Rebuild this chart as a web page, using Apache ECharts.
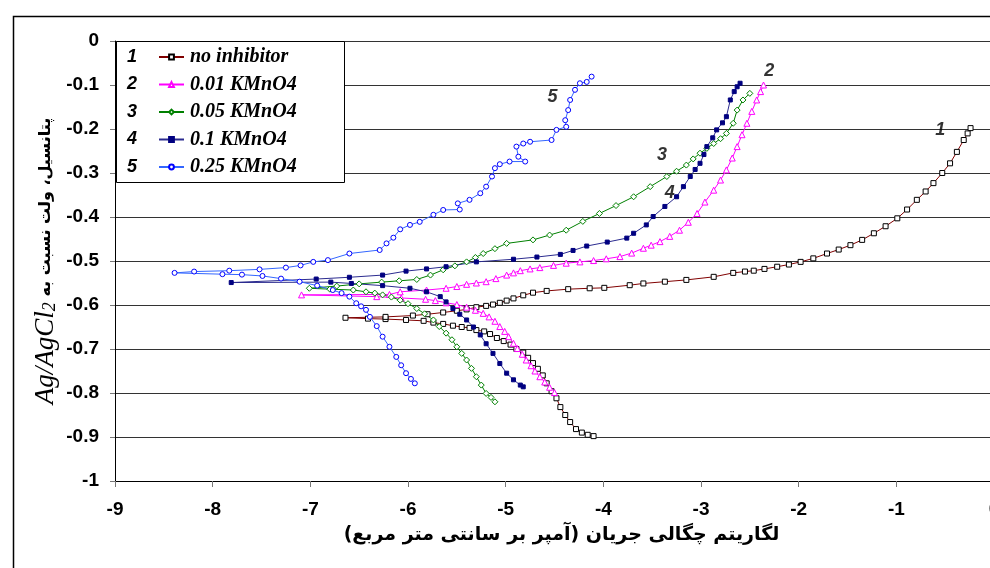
<!DOCTYPE html>
<html>
<head>
<meta charset="utf-8">
<script src="https://cdn.jsdelivr.net/npm/echarts/dist/echarts.min.js"></script>
<style>
  html, body { margin: 0; padding: 0; background: #fff; }
  #chart { width: 990px; height: 568px; }
</style>
</head>
<body>
<div id="chart"></div>
<script>
// log(i) , E  pairs, scan order: cathodic end -> Ecorr -> anodic end
const noInhibitor = [
  [-4.10,-0.898],[-4.16,-0.895],[-4.22,-0.890],[-4.28,-0.882],[-4.34,-0.866],[-4.39,-0.850],[-4.44,-0.832],
  [-4.48,-0.812],[-4.53,-0.796],[-4.58,-0.778],[-4.62,-0.760],[-4.67,-0.745],[-4.72,-0.732],[-4.77,-0.720],
  [-4.82,-0.708],[-4.89,-0.700],[-4.95,-0.690],[-5.02,-0.682],[-5.09,-0.675],[-5.16,-0.666],[-5.22,-0.660],
  [-5.30,-0.657],[-5.37,-0.652],[-5.45,-0.650],[-5.54,-0.647],[-5.64,-0.643],[-5.74,-0.640],[-5.84,-0.636],
  [-6.02,-0.634],[-6.23,-0.632],[-6.41,-0.631],[-6.64,-0.629],
  [-6.23,-0.627],[-5.95,-0.624],[-5.80,-0.621],[-5.64,-0.617],[-5.50,-0.613],[-5.40,-0.610],[-5.30,-0.605],
  [-5.20,-0.602],[-5.13,-0.599],[-5.06,-0.595],[-4.99,-0.590],[-4.92,-0.585],[-4.82,-0.578],[-4.72,-0.572],
  [-4.58,-0.568],[-4.36,-0.564],[-4.14,-0.562],[-3.99,-0.561],[-3.73,-0.555],[-3.59,-0.551],[-3.37,-0.547],
  [-3.15,-0.543],[-2.87,-0.536],[-2.67,-0.527],[-2.55,-0.524],[-2.46,-0.522],[-2.35,-0.518],[-2.22,-0.513],
  [-2.10,-0.508],[-1.98,-0.502],[-1.85,-0.494],[-1.71,-0.483],[-1.59,-0.474],[-1.47,-0.464],[-1.35,-0.452],
  [-1.23,-0.437],[-1.11,-0.421],[-0.99,-0.403],[-0.89,-0.383],[-0.79,-0.361],[-0.70,-0.342],[-0.62,-0.323],
  [-0.53,-0.300],[-0.45,-0.278],[-0.38,-0.252],[-0.31,-0.225],[-0.27,-0.210],[-0.24,-0.198]
];
const kmno4_001 = [
  [-4.50,-0.799],[-4.55,-0.787],[-4.60,-0.775],[-4.65,-0.763],[-4.70,-0.750],[-4.74,-0.738],[-4.79,-0.725],
  [-4.83,-0.712],[-4.88,-0.699],[-4.92,-0.687],[-4.97,-0.672],[-5.01,-0.660],[-5.06,-0.649],[-5.11,-0.637],
  [-5.17,-0.627],[-5.23,-0.619],[-5.31,-0.612],[-5.40,-0.605],[-5.50,-0.599],[-5.61,-0.595],[-5.72,-0.590],
  [-5.82,-0.587],[-6.07,-0.584],[-6.32,-0.581],[-7.09,-0.577],
  [-6.19,-0.576],[-6.08,-0.570],[-5.81,-0.566],[-5.61,-0.562],[-5.50,-0.558],[-5.40,-0.553],[-5.30,-0.550],
  [-5.20,-0.547],[-5.10,-0.540],[-4.99,-0.532],[-4.92,-0.527],[-4.85,-0.522],[-4.75,-0.518],[-4.65,-0.515],
  [-4.51,-0.510],[-4.38,-0.505],[-4.24,-0.502],[-4.10,-0.499],[-3.97,-0.495],[-3.83,-0.490],[-3.71,-0.482],
  [-3.59,-0.471],[-3.51,-0.464],[-3.42,-0.456],[-3.32,-0.444],[-3.22,-0.430],[-3.13,-0.412],[-3.04,-0.392],
  [-2.96,-0.366],[-2.87,-0.339],[-2.80,-0.316],[-2.74,-0.293],[-2.68,-0.266],[-2.63,-0.240],[-2.58,-0.213],
  [-2.53,-0.187],[-2.48,-0.160],[-2.43,-0.134],[-2.39,-0.115],[-2.36,-0.100]
];
const kmno4_005 = [
  [-5.11,-0.820],[-5.15,-0.810],[-5.20,-0.801],[-5.25,-0.782],[-5.30,-0.763],[-5.35,-0.744],[-5.40,-0.725],
  [-5.45,-0.710],[-5.50,-0.695],[-5.55,-0.679],[-5.61,-0.664],[-5.68,-0.649],[-5.74,-0.634],[-5.83,-0.620],
  [-5.91,-0.608],[-6.00,-0.597],[-6.08,-0.589],[-6.17,-0.582],[-6.26,-0.577],[-6.34,-0.573],[-6.43,-0.570],
  [-6.56,-0.566],[-6.80,-0.564],[-7.01,-0.562],
  [-6.73,-0.557],[-6.50,-0.552],[-6.27,-0.548],[-6.09,-0.545],[-5.91,-0.542],[-5.77,-0.532],[-5.64,-0.520],
  [-5.52,-0.511],[-5.40,-0.502],[-5.31,-0.492],[-5.23,-0.483],[-5.11,-0.472],[-4.99,-0.460],[-4.72,-0.452],
  [-4.55,-0.441],[-4.38,-0.430],[-4.21,-0.410],[-4.04,-0.392],[-3.87,-0.374],[-3.69,-0.354],[-3.52,-0.331],
  [-3.35,-0.308],[-3.25,-0.296],[-3.15,-0.282],[-3.08,-0.268],[-3.01,-0.255],[-2.94,-0.244],[-2.87,-0.233],
  [-2.80,-0.222],[-2.74,-0.210],[-2.67,-0.187],[-2.63,-0.157],[-2.57,-0.134],[-2.50,-0.119]
];
const kmno4_01 = [
  [-4.82,-0.786],[-4.85,-0.782],[-4.92,-0.770],[-4.99,-0.755],[-5.06,-0.733],[-5.13,-0.710],[-5.20,-0.688],
  [-5.26,-0.668],[-5.33,-0.650],[-5.40,-0.634],[-5.47,-0.621],[-5.54,-0.608],[-5.61,-0.593],[-5.67,-0.581],
  [-5.81,-0.570],[-5.98,-0.562],[-6.26,-0.556],[-6.58,-0.551],[-6.79,-0.548],[-7.81,-0.549],
  [-6.94,-0.541],[-6.60,-0.537],[-6.26,-0.532],[-6.02,-0.523],[-5.81,-0.518],[-5.61,-0.513],[-5.30,-0.502],
  [-4.92,-0.496],[-4.68,-0.491],[-4.44,-0.485],[-4.31,-0.476],[-4.17,-0.466],[-3.96,-0.457],[-3.76,-0.448],
  [-3.69,-0.437],[-3.56,-0.418],[-3.49,-0.399],[-3.37,-0.376],[-3.25,-0.354],[-3.18,-0.331],[-3.11,-0.308],
  [-3.06,-0.292],[-3.01,-0.278],[-2.97,-0.258],[-2.94,-0.240],[-2.88,-0.220],[-2.84,-0.202],[-2.78,-0.186],
  [-2.74,-0.172],[-2.70,-0.134],[-2.66,-0.115],[-2.63,-0.104],[-2.60,-0.096]
];
const kmno4_025 = [
  [-5.93,-0.778],[-5.97,-0.768],[-6.02,-0.755],[-6.07,-0.737],[-6.12,-0.718],[-6.19,-0.695],[-6.26,-0.672],
  [-6.32,-0.648],[-6.39,-0.627],[-6.43,-0.611],[-6.48,-0.603],[-6.53,-0.596],[-6.60,-0.581],[-6.68,-0.573],
  [-6.77,-0.566],[-6.93,-0.556],[-7.11,-0.547],[-7.30,-0.540],[-7.49,-0.534],[-7.70,-0.531],[-7.90,-0.530],
  [-8.39,-0.527],
  [-8.19,-0.524],[-7.83,-0.522],[-7.52,-0.519],[-7.25,-0.515],[-7.10,-0.510],[-6.97,-0.502],[-6.82,-0.498],
  [-6.60,-0.483],[-6.29,-0.475],[-6.22,-0.460],[-6.15,-0.447],[-6.08,-0.428],[-5.98,-0.418],[-5.88,-0.411],
  [-5.74,-0.395],[-5.64,-0.384],[-5.47,-0.383],[-5.49,-0.369],[-5.37,-0.361],[-5.26,-0.346],[-5.20,-0.331],
  [-5.14,-0.308],[-5.11,-0.289],[-5.06,-0.280],[-4.96,-0.274],[-4.80,-0.274],[-4.87,-0.263],[-4.89,-0.240],
  [-4.82,-0.233],[-4.75,-0.229],[-4.53,-0.225],[-4.48,-0.202],[-4.38,-0.195],[-4.39,-0.180],[-4.36,-0.157],
  [-4.34,-0.134],[-4.29,-0.111],[-4.24,-0.096],[-4.17,-0.093],[-4.12,-0.081]
];

const seriesNames = ['no inhibitor', '0.01 KMnO4', '0.05 KMnO4', '0.1 KMnO4', '0.25 KMnO4'];
const curveNumbers = ['1', '2', '3', '4', '5'];
// where the curve numbers sit, in data units
const curveLabelPos = [[-0.55,-0.202,'1'],[-2.30,-0.068,'2'],[-3.40,-0.259,'3'],[-3.32,-0.345,'4'],[-4.52,-0.127,'5']];
const xTitle = 'لگاریتم چگالی جریان (آمپر بر سانتی متر مربع)\u200F';
const yTitleFa = ' پتانسیل، ولت نسبت به';

let chart = echarts.init(document.getElementById('chart'));

function curve(name, data, lineColor, symbol, size, edge, fill) {
  return {
    name: name,
    type: 'line',
    data: data,
    symbol: symbol,
    symbolSize: size,
    showAllSymbol: true,
    animation: false,
    lineStyle: { color: lineColor, width: 1 },
    itemStyle: { color: fill, borderColor: edge, borderWidth: 1 },
    z: 3
  };
}

let legendNums = curveNumbers.map((n, i) => ({
  type: 'text',
  left: 127,
  top: 48 + i * 27.5,
  z: 20,
  style: { text: n, font: 'italic bold 18px Arial', fill: '#000' }
}));

let option = {
  animation: false,
  grid: { left: 115, right: -4, top: 41, bottom: 87, outerBoundsMode: 'none', containLabel: false },
  xAxis: {
    type: 'value', min: -9, max: 0, interval: 1,
    axisLine: { onZero: false, lineStyle: { color: '#000', width: 1 } },
    axisTick: { show: true, length: 6, lineStyle: { color: '#777' } },
    axisLabel: { margin: 19, fontFamily: 'Arial', fontWeight: 'bold', fontSize: 19, color: '#000' },
    splitLine: { show: false },
    name: xTitle,
    nameLocation: 'middle',
    nameGap: 45,
    nameMoveOverlap: false,
    nameTextStyle: { fontFamily: 'DejaVu Sans', fontWeight: 'bold', fontSize: 19, color: '#000', padding: [0, 0, 0, 14] }
  },
  yAxis: {
    type: 'value', min: -1, max: 0, interval: 0.1,
    axisLine: { show: true, onZero: false, lineStyle: { color: '#000', width: 1 } },
    axisTick: { show: true, length: 5, lineStyle: { color: '#777' } },
    axisLabel: { margin: 16, fontFamily: 'Arial', fontWeight: 'bold', fontSize: 19, color: '#000' },
    splitLine: { show: true, lineStyle: { color: '#333', width: 1 } },
    name: '{a|Ag/AgCl}{s|2}{b|' + yTitleFa + '}',
    nameLocation: 'middle',
    nameRotate: 90,
    nameGap: 56,
    nameMoveOverlap: false,
    nameTextStyle: {
      rich: {
        a: { fontFamily: 'Liberation Serif', fontStyle: 'italic', fontSize: 27, color: '#000' },
        s: { fontFamily: 'Liberation Serif', fontStyle: 'italic', fontSize: 18, color: '#000', padding: [9, 0, 0, 0] },
        b: { fontFamily: 'DejaVu Sans', fontWeight: 'bold', fontSize: 16, color: '#000' }
      }
    }
  },
  legend: {
    data: seriesNames,
    orient: 'vertical',
    left: 158,
    top: 47,
    padding: 0,
    itemWidth: 25,
    itemHeight: 6,
    itemGap: 7.5,
    selectedMode: false,
    textStyle: { fontFamily: 'Liberation Serif', fontStyle: 'italic', fontWeight: 'bold', fontSize: 20, color: '#000', padding: [0, 0, 0, 1] },
    z: 20
  },
  graphic: [
    {
      type: 'rect', left: 11, top: 14, z: 0, silent: true,
      shape: { width: 1000, height: 600 },
      style: { fill: 'none', stroke: '#000', lineWidth: 1.5 }
    },
    {
      type: 'rect', left: 116, top: 41, z: 19, silent: true,
      shape: { width: 228, height: 141 },
      style: { fill: '#fff', stroke: '#000', lineWidth: 1 }
    }
  ].concat(legendNums),
  series: [
    curve(seriesNames[0], noInhibitor, '#800000', 'rect', 5, '#000', '#fff'),
    curve(seriesNames[1], kmno4_001, '#ff00ff', 'triangle', 6, '#ff00ff', '#fff'),
    curve(seriesNames[2], kmno4_005, '#008000', 'diamond', 6, '#008000', '#fff'),
    curve(seriesNames[3], kmno4_01, '#2b2b8f', 'rect', 4, '#000080', '#000080'),
    curve(seriesNames[4], kmno4_025, '#3366ff', 'circle', 5, '#0000ff', '#fff'),
    {
      name: 'labels',
      type: 'scatter',
      data: curveLabelPos,
      symbolSize: 0,
      silent: true,
      label: {
        show: true, position: 'inside',
        formatter: p => p.value[2],
        fontFamily: 'Arial', fontStyle: 'italic', fontWeight: 'bold', fontSize: 18, color: '#000'
      },
      z: 5
    }
  ]
};
chart.setOption(option);
</script>
</body>
</html>
